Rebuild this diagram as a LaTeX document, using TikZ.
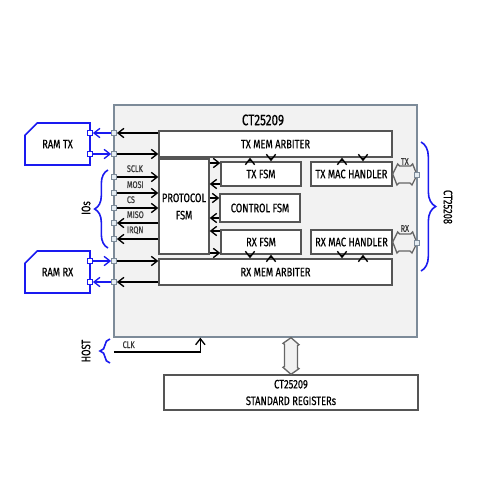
\documentclass[tikz,border=0pt]{standalone}
\usepackage{fontspec}
\setmainfont{Fira Sans}[FakeStretch=0.76,FakeBold=0.5]
\usetikzlibrary{positioning,calc,shapes.misc,decorations.pathreplacing,arrows.meta}
\definecolor{frame}{HTML}{7D8B99}
\definecolor{chipfill}{HTML}{F2F2F2}
\definecolor{blkline}{HTML}{555555}
\definecolor{portfill}{HTML}{E4ECF2}
\definecolor{ramblue}{HTML}{1A1AF0}
\definecolor{sigtext}{HTML}{3A3A3A}
\newcommand{\blkfont}{\fontsize{9.2}{11}\selectfont}
\newcommand{\sigfont}{\fontsize{7.2}{8}\selectfont}
\begin{document}
\begin{tikzpicture}[x=0.75pt,y=-0.75pt,line width=1pt,>={Straight Barb[length=4.5pt,width=7pt]}]
\tikzstyle{chip}=[rectangle,draw=frame,fill=chipfill,line width=1pt]
\tikzstyle{blk}=[rectangle,draw=blkline,fill=white,line width=1pt,inner sep=0pt,font=\blkfont]
\tikzstyle{ram}=[chamfered rectangle,chamfered rectangle corners=north west,chamfered rectangle xsep=9pt,chamfered rectangle ysep=6pt,draw=ramblue,fill=white,line width=1.2pt,inner sep=0pt,minimum width=48.75pt,minimum height=31.5pt,font=\blkfont]
\tikzstyle{port}=[rectangle,draw=frame,fill=portfill,line width=0.6pt,inner sep=0pt,minimum size=3.75pt]
\tikzstyle{bport}=[port,draw=ramblue,fill=white]
\tikzstyle{sig}=[inner sep=0pt,font=\sigfont,text=sigtext]
\tikzstyle{bus}=[draw=blkline!90,fill=chipfill,line width=1pt,line join=miter]
\tikzstyle{curly}=[draw=ramblue,line width=1.2pt,decorate]
\useasboundingbox (0,0) rectangle (480,480);
% chip and its blocks
\node at (265.5,221) (main)[chip,minimum width=227.25pt,minimum height=174pt] {};
\node at (263,120) (title)[font=\fontsize{11.5}{13}\selectfont] {CT25209};
\node at (275.5,144) (txarb)[blk,minimum width=174.75pt,minimum height=19.5pt] {TX MEM ARBITER};
\node at (275.5,272) (rxarb)[blk,minimum width=174.75pt,minimum height=19.5pt] {RX MEM ARBITER};
\node at (184,206.5) (proto)[blk,minimum width=37.5pt,minimum height=71.25pt,align=center] {PROTOCOL\\[2pt]FSM};
\node at (261,174) (txfsm)[blk,minimum width=60pt,minimum height=18pt] {TX FSM};
\node at (260,208) (ctrl)[blk,minimum width=60pt,minimum height=21pt] {CONTROL FSM};
\node at (261,242) (rxfsm)[blk,minimum width=60pt,minimum height=18pt] {RX FSM};
\node at (351.5,174) (txmac)[blk,minimum width=60.75pt,minimum height=18pt] {TX MAC HANDLER};
\node at (351.5,242) (rxmac)[blk,minimum width=60.75pt,minimum height=18pt] {RX MAC HANDLER};
\node at (291,392.5) (regs)[blk,minimum width=190.5pt,minimum height=26.25pt,align=center] {CT25209\\[1.5pt]STANDARD REGISTERs};
% memories
\node at (57.5,144) (ramtx)[ram] {RAM TX};
\node at (57.5,272) (ramrx)[ram] {RAM RX};
% ports
\node at (114,133) (p1)[port] {};
\node at (114,154) (p2)[port] {};
\node at (114,177) (sclk)[port] {};
\node at (114,193) (mosi)[port] {};
\node at (114,208) (cs)[port] {};
\node at (114,223) (miso)[port] {};
\node at (114,239) (irqn)[port] {};
\node at (114,261) (p8)[port] {};
\node at (114,282) (p9)[port] {};
\node at (417,175) (qtx)[port] {};
\node at (417,243) (qrx)[port] {};
\node at (90,133) (r1)[bport] {};
\node at (90,154) (r2)[bport] {};
\node at (90,261) (r3)[bport] {};
\node at (90,282) (r4)[bport] {};
% memory links
\draw [->,ramblue] (p1) to (r1);
\draw [->,ramblue] (r2) to (p2);
\draw [->,ramblue] (r3) to (p8);
\draw [->,ramblue] (p9) to (r4);
\draw [->] (txarb.west |- p1) to (p1);
\draw [->] (p2) to (txarb.west |- p2);
\draw [->] (p8) to (rxarb.west |- p8);
\draw [->] (rxarb.west |- p9) to (p9);
% serial interface
\draw [->] (sclk) to (sclk -| proto.west);
\draw [->] (mosi) to (mosi -| proto.west);
\draw [->] (cs) to (cs -| proto.west);
\draw [->] (miso -| proto.west) to (miso);
\draw [->] (irqn -| proto.west) to (irqn);
\node [sig,above right=1pt and 7pt of sclk] (lsclk) {SCLK};
\node [sig,above right=1pt and 7pt of mosi] (lmosi) {MOSI};
\node [sig,above right=1pt and 7pt of cs] (lcs) {CS};
\node [sig,above right=1pt and 7pt of miso] (lmiso) {MISO};
\node [sig,above right=1pt and 7pt of irqn] (lirqn) {IRQN};
% protocol fsm to the other fsms
\foreach \fsm/\dy/\dir in {txfsm/-11/->,txfsm/10/<-,ctrl/-10/->,ctrl/10/<-,rxfsm/-11/<-,rxfsm/11/->}
  \draw [\dir] let \p1=($(\fsm.west)+(0,\dy)$), \p2=(proto.east) in (\x2,\y1) to (\p1);
% arbiters
\foreach \blk/\dx/\dir in {txfsm/-11/->,txfsm/10/<-,txmac/-9.5/->,txmac/11.5/<-}
  \draw [\dir] let \p1=($(\blk.north)+(\dx,0)$), \p2=(txarb.south) in (\p1) to (\x1,\y2);
\foreach \blk/\dx/\dir in {rxfsm/-11/->,rxfsm/10/<-,rxmac/-9.5/->,rxmac/11.5/<-}
  \draw [\dir] let \p1=($(\blk.south)+(\dx,0)$), \p2=(rxarb.north) in (\p1) to (\x1,\y2);
% line side buses
\draw [bus] (txmac.east) -- ++(5,-10) -- ++(2,2) -- ++(11,0) -- ++(2,-2) -- (qtx.center) -- ++(-5,10) -- ++(-2,-2) -- ++(-11,0) -- ++(-2,2) -- cycle;
\draw [bus] (rxmac.east) -- ++(5,-10) -- ++(2,2) -- ++(11,0) -- ++(2,-2) -- (qrx.center) -- ++(-5,10) -- ++(-2,-2) -- ++(-11,0) -- ++(-2,2) -- cycle;
\node at (qtx) [port] {};
\node at (qrx) [port] {};
\node at ($(txmac.east)!0.5!(qtx.center)+(0,-13)$) (ltx)[sig] {TX};
\node at ($(rxmac.east)!0.5!(qrx.center)+(0,-14)$) (lrx)[sig] {RX};
% register bus
\draw [bus] (regs.north |- main.south) -- ++(8,7) -- ++(-1.5,1) -- ++(0,22) -- ++(1.5,1) -- (regs.north) -- ++(-8,-7) -- ++(1.5,-1) -- ++(0,-22) -- ++(-1.5,-1) -- cycle;
% host clock
\coordinate (clkin) at (114,352);
\draw [->] (clkin) -| ($(main.south west)+(87,0)$);
\node [sig,anchor=base west] at (122,348) (lclk) {CLK};
% braces
\draw [curly,decoration={brace,amplitude=10pt}] (108,248) -- (108,170);
\node at (86,208) (lios)[rotate=90,font=\blkfont] {IOs};
\draw [curly,decoration={brace,amplitude=11pt}] (421,142) -- (421,271);
\node at (448,207) (lct)[rotate=-90,font=\blkfont] {CT25208};
\draw [curly,decoration={brace,amplitude=7.5pt}] (110,363) -- (110,339);
\node at (86,351) (lhost)[rotate=90,font=\blkfont] {HOST};
\end{tikzpicture}
\end{document}
